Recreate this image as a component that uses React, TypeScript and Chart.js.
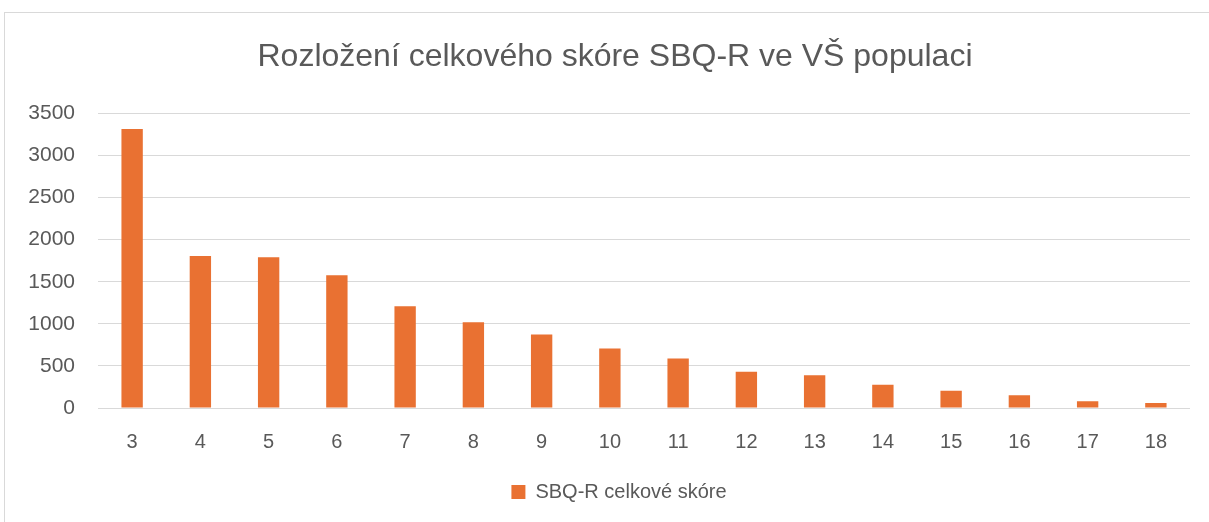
import React, { useEffect, useRef } from "react";
import { Chart, registerables } from "chart.js";

Chart.register(...registerables);

const categories: string[] = ["3", "4", "5", "6", "7", "8", "9", "10", "11", "12", "13", "14", "15", "16", "17", "18"];
const scoreCounts: number[] = [3315, 1805, 1790, 1578, 1208, 1019, 872, 707, 587, 430, 390, 277, 206, 150, 79, 59];
const seriesName = "SBQ-R celkové skóre";
const chartTitle = "Rozložení celkového skóre SBQ-R ve VŠ populaci";
const yMax = 3500;
const yStep = 500;

const TEXT = "#595959";
const GRID = "#d9d9d9";
const ORANGE = "#E97132";
const FONT = "'Liberation Sans', Arial, sans-serif";

const shiftPlugin = {
  id: "shiftBlocks",
  afterLayout(chart: any) {
    const t = chart.titleBlock;
    if (t) {
      t.left += 20;
      t.right += 20;
    }
    const l = chart.legend;
    if (l) {
      l.left += 24;
      l.right += 24;
    }
  },
};

export default function App() {
  const ref = useRef<HTMLCanvasElement | null>(null);

  useEffect(() => {
    document.body.style.margin = "0";
    if (!ref.current) return;
    const chart = new Chart(ref.current, {
      type: "bar",
      data: {
        labels: categories,
        datasets: [
          {
            label: seriesName,
            data: scoreCounts,
            backgroundColor: ORANGE,
            borderWidth: 0,
            barPercentage: 0.313,
            categoryPercentage: 1,
          },
        ],
      },
      plugins: [shiftPlugin],
      options: {
        responsive: false,
        animation: false,
        maintainAspectRatio: false,
        layout: { padding: { left: 0, right: 19, top: 0, bottom: 10 } },
        plugins: {
          title: {
            display: true,
            text: chartTitle,
            color: TEXT,
            font: { family: FONT, size: 32, weight: "normal" },
            padding: { top: 38, bottom: 37 },
          },
          legend: {
            display: true,
            position: "bottom",
            labels: {
              color: TEXT,
              font: { family: FONT, size: 20 },
              boxWidth: 14,
              boxHeight: 14,
              padding: 10,
            },
          },
          tooltip: { enabled: false },
        },
        scales: {
          x: {
            grid: { display: false },
            border: { display: false },
            ticks: { color: TEXT, font: { family: FONT, size: 20 }, padding: 14, maxRotation: 0 },
            afterFit: (s: any) => {
              s.height = 64;
            },
          },
          y: {
            min: 0,
            max: yMax,
            ticks: {
              stepSize: yStep,
              color: TEXT,
              font: { family: FONT, size: 21 },
              padding: 23,
              callback: (v: any) => String(v),
            },
            grid: { color: GRID, lineWidth: 1, drawTicks: false },
            border: { display: false },
            afterFit: (s: any) => {
              s.width = 98;
            },
          },
        },
      },
    });
    return () => chart.destroy();
  }, []);

  return (
    <div style={{ position: "fixed", left: 0, top: 0, width: 1209, height: 522, overflow: "hidden", background: "#fff" }}>
      <div
        style={{
          position: "absolute",
          left: 4,
          top: 12,
          width: 1400,
          height: 700,
          border: `1px solid ${GRID}`,
          boxSizing: "border-box",
        }}
      />
      <canvas ref={ref} width={1209} height={522} style={{ position: "absolute", left: 0, top: 0, display: "block" }} />
    </div>
  );
}
